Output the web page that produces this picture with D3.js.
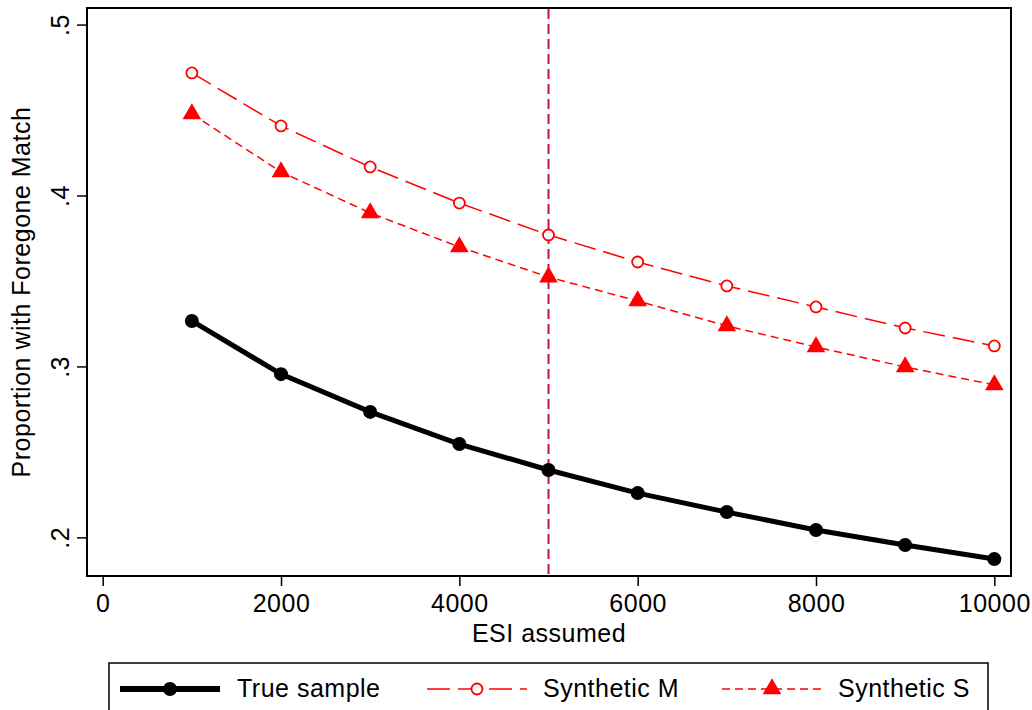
<!DOCTYPE html>
<html><head><meta charset="utf-8">
<script src="https://cdn.jsdelivr.net/npm/d3@7"></script>
<style>body{margin:0;background:#fff}svg{display:block}text{font-family:"Liberation Sans",Arial,sans-serif;letter-spacing:0.5px}</style>
</head><body>
<svg id="c" width="1032" height="710"></svg>
<script>
const esi = [1000,2000,3000,4000,5000,6000,7000,8000,9000,10000];
const trueSample = [0.3266,0.2955,0.2734,0.2546,0.2394,0.2259,0.2148,0.2043,0.1955,0.1873];
const syntheticM = [0.4717,0.4407,0.4167,0.3956,0.3769,0.3611,0.3471,0.3348,0.3225,0.3120];
const syntheticS = [0.4477,0.4138,0.3898,0.3699,0.3523,0.3383,0.3237,0.3114,0.2997,0.2892];
const xTicks = [0,2000,4000,6000,8000,10000];
const yTicks = [0.2,0.3,0.4,0.5];
const yTickLabels = [".2",".3",".4",".5"];
const refLine = 5000;
const seriesNames = ["True sample","Synthetic M","Synthetic S"];

const svg = d3.select("#c");
const L=87, R=1011, T=8, B=576;
const FS = 25;
const x = d3.scaleLinear().domain([-176,10187]).range([L,R]);
const y = d3.scaleLinear().domain([0.1774,0.5097]).range([B,T]);

svg.append("rect").attr("x",L).attr("y",T).attr("width",R-L).attr("height",B-T)
  .attr("fill","none").attr("stroke","#000").attr("stroke-width",2);

// axes
const xa = svg.append("g").attr("transform",`translate(0,${B})`)
  .call(d3.axisBottom(x).tickValues(xTicks).tickSize(10).tickPadding(8).tickFormat(d3.format("d")));
xa.select(".domain").remove();
xa.selectAll("line").attr("stroke-width",1.5);
xa.selectAll("text").attr("font-size",FS).attr("fill","#000");

const ya = svg.append("g").attr("transform",`translate(${L},0)`)
  .call(d3.axisLeft(y).tickValues(yTicks).tickSize(10).tickFormat((d,i)=>yTickLabels[i]));
ya.select(".domain").remove();
ya.selectAll("line").attr("stroke-width",1.5);
ya.selectAll("text").attr("font-size",FS).attr("fill","#000")
  .attr("text-anchor","middle").attr("dy",null).attr("x",null)
  .attr("transform","translate(-27,0) rotate(-90)").attr("dy","0.35em");

svg.append("text").attr("x",(L+R)/2).attr("y",642).attr("text-anchor","middle")
  .attr("font-size",FS).text("ESI assumed");
svg.append("text").attr("transform",`translate(30,${(T+B)/2}) rotate(-90)`)
  .attr("text-anchor","middle").attr("font-size",FS).text("Proportion with Foregone Match");

// reference line
svg.append("line").attr("x1",x(refLine)).attr("x2",x(refLine)).attr("y1",T+1).attr("y2",B-1)
  .attr("stroke","#c2134b").attr("stroke-width",2).attr("stroke-dasharray","10,5");

const line = d3.line().x((d,i)=>x(esi[i])).y(d=>y(d));
const tri = d3.symbol().type(d3.symbolTriangle).size(150);

// M
svg.append("path").attr("d",line(syntheticM)).attr("fill","none").attr("stroke","#ff0000")
  .attr("stroke-width",1.5).attr("stroke-dasharray","22,8");
svg.selectAll(".m").data(syntheticM).enter().append("circle")
  .attr("cx",(d,i)=>x(esi[i])).attr("cy",d=>y(d)).attr("r",5.5)
  .attr("fill","#fff").attr("stroke","#ff0000").attr("stroke-width",1.8);
// S
svg.append("path").attr("d",line(syntheticS)).attr("fill","none").attr("stroke","#ff0000")
  .attr("stroke-width",1.5).attr("stroke-dasharray","8,5");
svg.selectAll(".s").data(syntheticS).enter().append("path")
  .attr("d",tri).attr("transform",(d,i)=>`translate(${x(esi[i])},${y(d)})`).attr("fill","#ff0000");
// True
svg.append("path").attr("d",line(trueSample)).attr("fill","none").attr("stroke","#000")
  .attr("stroke-width",5);
svg.selectAll(".t").data(trueSample).enter().append("circle")
  .attr("cx",(d,i)=>x(esi[i])).attr("cy",d=>y(d)).attr("r",7).attr("fill","#000");

// legend
const lg = svg.append("g");
lg.append("rect").attr("x",109).attr("y",663).attr("width",879).attr("height",60)
  .attr("fill","#fff").attr("stroke","#000").attr("stroke-width",1.5);
const ly = 689;
const items = [{tx:237},{tx:543},{tx:838}];
lg.append("line").attr("x1",120).attr("x2",220).attr("y1",ly).attr("y2",ly).attr("stroke","#000").attr("stroke-width",6);
lg.append("circle").attr("cx",170).attr("cy",ly).attr("r",7).attr("fill","#000");
lg.append("line").attr("x1",427).attr("x2",527).attr("y1",ly).attr("y2",ly).attr("stroke","#ff0000").attr("stroke-width",1.5).attr("stroke-dasharray","23,8");
lg.append("circle").attr("cx",477).attr("cy",ly).attr("r",5.5).attr("fill","#fff").attr("stroke","#ff0000").attr("stroke-width",1.8);
lg.append("line").attr("x1",722).attr("x2",822).attr("y1",ly).attr("y2",ly).attr("stroke","#ff0000").attr("stroke-width",1.5).attr("stroke-dasharray","8,5");
lg.append("path").attr("d",tri).attr("transform",`translate(772,${ly})`).attr("fill","#ff0000");
items.forEach((it,i)=>lg.append("text").attr("x",it.tx).attr("y",697).attr("font-size",FS).text(seriesNames[i]));
</script>
</body></html>
